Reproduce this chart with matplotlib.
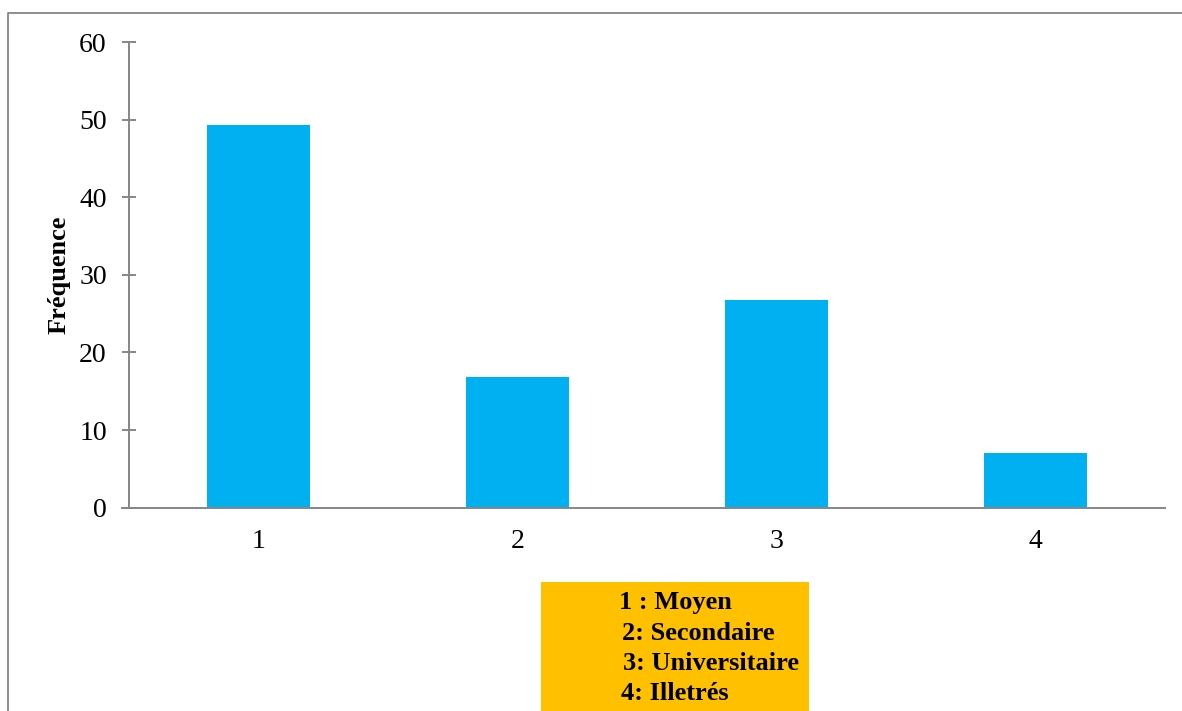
import matplotlib.pyplot as plt
from matplotlib.lines import Line2D
from matplotlib.patches import Rectangle

categories = [1, 2, 3, 4]
frequences = [49.3, 16.9, 26.8, 7.0]
y_ticks = [0, 10, 20, 30, 40, 50, 60]
legend_lines = ["1 : Moyen", "2: Secondaire", "3: Universitaire", "4: Illetrés"]

plt.rcParams["font.family"] = ["Liberation Serif", "DejaVu Serif"]

W, H = 1182, 711
fig = plt.figure(figsize=(W / 100, H / 100), dpi=100)
ax = fig.add_axes([129 / W, 1 - 507.7 / H, (1165 - 129) / W, (507.7 - 42) / H])

axis_grey = "#868686"
ax.bar(categories, frequences, width=0.4, color="#00B0F0", zorder=2)

ax.set_xlim(0.5, 4.5)
ax.set_ylim(0, 60)
ax.set_xticks(categories)
ax.set_yticks(y_ticks)
ax.tick_params(axis="x", length=0, pad=15, labelsize=20)
ax.tick_params(axis="y", direction="inout", length=10, width=1.4,
               color=axis_grey, pad=11, labelsize=20)

for side in ("top", "right"):
    ax.spines[side].set_visible(False)
for side in ("left", "bottom"):
    ax.spines[side].set_color(axis_grey)
    ax.spines[side].set_linewidth(1.4)
ax.spines["bottom"].set_bounds(0.5 - 7 / 259, 4.5)

ax.set_ylabel("Fréquence", fontsize=19, fontweight="bold", labelpad=6)

# outer frame around the chart area (top and left edges)
fig.add_artist(Line2D([7.5 / W, 7.5 / W, 1.0], [0.0, 1 - 13 / H, 1 - 13 / H],
                      transform=fig.transFigure, color=axis_grey, lw=1.3))

# category key box below the axis
fig.add_artist(Rectangle((541 / W, 0), (809 - 541) / W, (711 - 582) / H,
                         transform=fig.transFigure, facecolor="#FFC000",
                         edgecolor="none"))
key_x = [619, 622, 623, 621]
key_y = [603, 633, 663, 693]
for txt, kx, ky in zip(legend_lines, key_x, key_y):
    fig.text(kx / W, 1 - ky / H, txt, fontsize=19, fontweight="bold",
             ha="left", va="center")

fig.savefig("out.png", dpi=100, facecolor="white")
